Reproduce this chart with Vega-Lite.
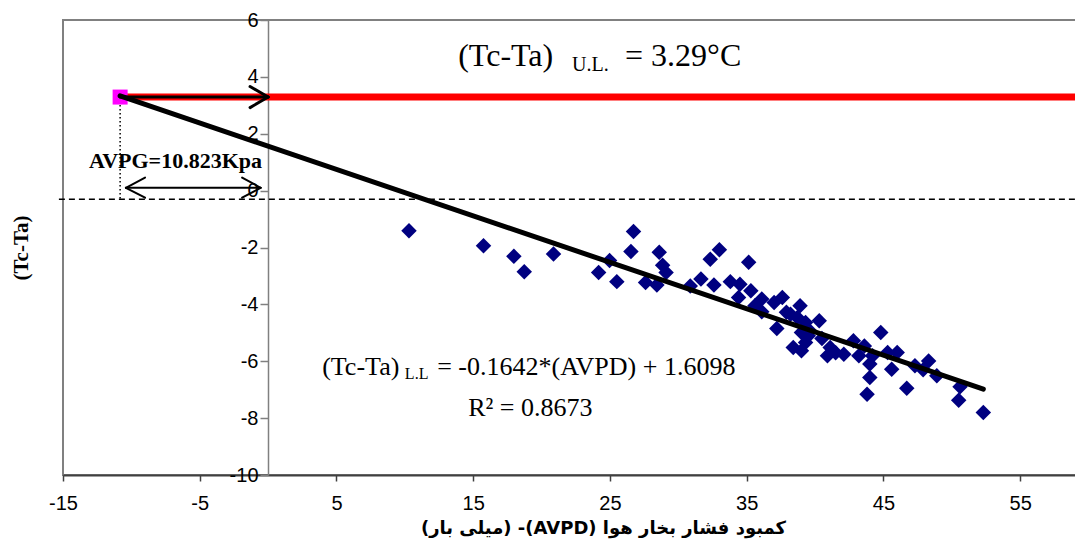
{
  "$schema": "https://vega.github.io/schema/vega-lite/v6.json",
  "width": 1014,
  "height": 455,
  "autosize": "none",
  "padding": {"left": 63, "top": 20, "right": 0, "bottom": 66},
  "background": "white",
  "config": {"view": {"stroke": "#808080", "strokeWidth": 2}, "font": "Liberation Sans"},
  "datasets": {
    "pts": [
      {"x": 10.3, "y": -1.41}, {"x": 15.75, "y": -1.94}, {"x": 17.97, "y": -2.31}, {"x": 18.73, "y": -2.85},
      {"x": 20.87, "y": -2.23}, {"x": 24.17, "y": -2.88}, {"x": 24.97, "y": -2.46}, {"x": 25.5, "y": -3.2},
      {"x": 26.72, "y": -1.44}, {"x": 26.53, "y": -2.14}, {"x": 27.6, "y": -3.23}, {"x": 28.43, "y": -3.32},
      {"x": 28.6, "y": -2.17}, {"x": 28.85, "y": -2.62}, {"x": 29.1, "y": -2.88}, {"x": 30.87, "y": -3.35},
      {"x": 31.65, "y": -3.11}, {"x": 32.33, "y": -2.41}, {"x": 33.0, "y": -2.08}, {"x": 32.6, "y": -3.32},
      {"x": 33.8, "y": -3.2}, {"x": 34.5, "y": -3.29}, {"x": 35.14, "y": -2.52}, {"x": 35.3, "y": -3.52},
      {"x": 34.4, "y": -3.76}, {"x": 36.1, "y": -3.81}, {"x": 35.6, "y": -4.05}, {"x": 37.0, "y": -3.93},
      {"x": 37.6, "y": -3.76}, {"x": 36.1, "y": -4.26}, {"x": 37.9, "y": -4.28}, {"x": 38.9, "y": -4.05},
      {"x": 38.7, "y": -4.46}, {"x": 37.2, "y": -4.85}, {"x": 39.3, "y": -4.64}, {"x": 40.3, "y": -4.58},
      {"x": 39.6, "y": -4.93}, {"x": 39.0, "y": -4.99}, {"x": 39.3, "y": -5.34}, {"x": 38.4, "y": -5.52},
      {"x": 39.0, "y": -5.63}, {"x": 41.1, "y": -5.52}, {"x": 40.9, "y": -5.81}, {"x": 41.5, "y": -5.7},
      {"x": 42.1, "y": -5.75}, {"x": 42.8, "y": -5.28}, {"x": 43.6, "y": -5.46}, {"x": 43.2, "y": -5.81},
      {"x": 44.2, "y": -5.81}, {"x": 44.0, "y": -6.1}, {"x": 44.8, "y": -4.99}, {"x": 45.3, "y": -5.69},
      {"x": 46.0, "y": -5.69}, {"x": 45.6, "y": -6.28}, {"x": 44.0, "y": -6.57}, {"x": 43.8, "y": -7.16},
      {"x": 46.7, "y": -6.95}, {"x": 47.3, "y": -6.16}, {"x": 48.3, "y": -5.99}, {"x": 47.9, "y": -6.3},
      {"x": 48.9, "y": -6.51}, {"x": 50.6, "y": -6.9}, {"x": 50.5, "y": -7.37}, {"x": 52.3, "y": -7.8},
      {"x": 39.5, "y": -5.1}, {"x": 38.2, "y": -4.35}, {"x": 40.5, "y": -5.2}
    ]
  },
  "encoding": {
    "x": {
      "field": "x", "type": "quantitative",
      "scale": {"domain": [-15, 59.15], "nice": false, "zero": false},
      "axis": {
        "values": [-15, -5, 5, 15, 25, 35, 45, 55], "grid": false, "labelFlush": false,
        "labelExpr": "datum.value + ''",
        "domainColor": "#404040", "domainWidth": 2, "tickColor": "#404040", "tickWidth": 1.5, "tickSize": 6,
        "labelFont": "Liberation Sans", "labelFontSize": 20, "labelColor": "black", "labelPadding": 12,
        "title": "\u202bکمبود فشار بخار هوا (AVPD)- (میلی بار)\u202c",
        "titleFont": "DejaVu Sans", "titleFontSize": 18, "titleFontWeight": "bold", "titleColor": "black",
        "titleX": 540, "titleY": 53, "titleBaseline": "middle"
      }
    },
    "y": {
      "field": "y", "type": "quantitative",
      "scale": {"domain": [-10, 6], "nice": false, "zero": false},
      "axis": {
        "values": [-10, -8, -6, -4, -2, 0, 2, 4, 6], "offset": -205, "grid": false, "labelFlush": false,
        "labelExpr": "datum.value + ''",
        "domainColor": "#808080", "domainWidth": 1.5, "tickColor": "#808080", "tickSize": 8, "tickWidth": 1.5,
        "labelFont": "Liberation Sans", "labelFontSize": 20, "labelColor": "black", "labelPadding": 2,
        "title": "(Tc-Ta)", "titleFont": "Liberation Serif", "titleFontSize": 21, "titleFontWeight": "bold",
        "titleColor": "black", "titleX": -247, "titleBaseline": "middle"
      }
    }
  },
  "layer": [
    {
      "data": {"values": [{"x": -15.3, "y": -0.3, "x2": 59.15, "y2": -0.3}]},
      "mark": {"type": "rule", "color": "black", "strokeWidth": 1.5, "strokeDash": [6, 4]},
      "encoding": {"x2": {"field": "x2"}, "y2": {"field": "y2"}}
    },
    {
      "data": {"values": [{"x": -10.823, "y": 3.29, "x2": -10.823, "y2": -0.3}]},
      "mark": {"type": "rule", "color": "black", "strokeWidth": 1.5, "strokeDash": [1.5, 2.5]},
      "encoding": {"x2": {"field": "x2"}, "y2": {"field": "y2"}}
    },
    {
      "data": {"values": [{"x": -10.823, "y": 3.29, "x2": 59.15, "y2": 3.29}]},
      "mark": {"type": "rule", "color": "#FF0000", "strokeWidth": 7},
      "encoding": {"x2": {"field": "x2"}, "y2": {"field": "y2"}}
    },
    {
      "data": {"values": [{"x": -10.823, "y": 3.29}]},
      "mark": {"type": "point", "shape": "square", "filled": true, "size": 225, "color": "#FF00FF", "opacity": 1}
    },
    {
      "data": {"name": "pts"},
      "mark": {"type": "point", "shape": "diamond", "filled": true, "size": 240, "color": "#000080", "opacity": 1}
    },
    {
      "data": {"values": [{"x": -10.823, "y": 3.33, "x2": 52.3, "y2": -6.98}]},
      "mark": {"type": "rule", "color": "black", "strokeWidth": 5, "strokeCap": "round"},
      "encoding": {"x2": {"field": "x2"}, "y2": {"field": "y2"}}
    },
    {
      "data": {"values": [
        {"x": -10.823, "y": 3.29, "x2": 0, "y2": 3.29},
        {"x": -1.32, "y": 3.66, "x2": 0, "y2": 3.29},
        {"x": -1.32, "y": 2.92, "x2": 0, "y2": 3.29}
      ]},
      "mark": {"type": "rule", "color": "black", "strokeWidth": 3, "strokeCap": "round"},
      "encoding": {"x2": {"field": "x2"}, "y2": {"field": "y2"}}
    },
    {
      "data": {"values": [
        {"x": -10.4, "y": 0.1, "x2": -0.55, "y2": 0.1},
        {"x": -9.0, "y": 0.46, "x2": -10.4, "y2": 0.1},
        {"x": -9.0, "y": -0.25, "x2": -10.4, "y2": 0.1},
        {"x": -1.9, "y": 0.46, "x2": -0.55, "y2": 0.1},
        {"x": -1.9, "y": -0.25, "x2": -0.55, "y2": 0.1}
      ]},
      "mark": {"type": "rule", "color": "black", "strokeWidth": 2, "strokeCap": "round"},
      "encoding": {"x2": {"field": "x2"}, "y2": {"field": "y2"}}
    },
    {
      "data": {"values": [{"x": 13.9, "y": 4.395, "t": "(Tc-Ta)"}, {"x": 26.1, "y": 4.395, "t": "= 3.29°C"}]},
      "mark": {"type": "text", "font": "Liberation Serif", "fontSize": 32, "align": "left", "baseline": "alphabetic", "color": "black"},
      "encoding": {"text": {"field": "t"}}
    },
    {
      "data": {"values": [{"x": 22.23, "y": 4.22, "t": "U.L."}]},
      "mark": {"type": "text", "font": "Liberation Serif", "fontSize": 20, "align": "left", "baseline": "alphabetic", "color": "black"},
      "encoding": {"text": {"field": "t"}}
    },
    {
      "data": {"values": [
        {"x": 3.95, "y": -6.47, "t": "(Tc-Ta)"},
        {"x": 12.36, "y": -6.47, "t": "= -0.1642*(AVPD) + 1.6098"},
        {"x": 14.63, "y": -7.91, "t": "R² = 0.8673"}
      ]},
      "mark": {"type": "text", "font": "Liberation Serif", "fontSize": 26, "align": "left", "baseline": "alphabetic", "color": "black"},
      "encoding": {"text": {"field": "t"}}
    },
    {
      "data": {"values": [{"x": 10.0, "y": -6.61, "t": "L.L"}]},
      "mark": {"type": "text", "font": "Liberation Serif", "fontSize": 16, "align": "left", "baseline": "alphabetic", "color": "black"},
      "encoding": {"text": {"field": "t"}}
    },
    {
      "data": {"values": [{"x": -13.09, "y": 0.81, "t": "AVPG=10.823Kpa"}]},
      "mark": {"type": "text", "font": "Liberation Serif", "fontSize": 22, "fontWeight": "bold", "align": "left", "baseline": "alphabetic", "color": "black"},
      "encoding": {"text": {"field": "t"}}
    }
  ]
}
